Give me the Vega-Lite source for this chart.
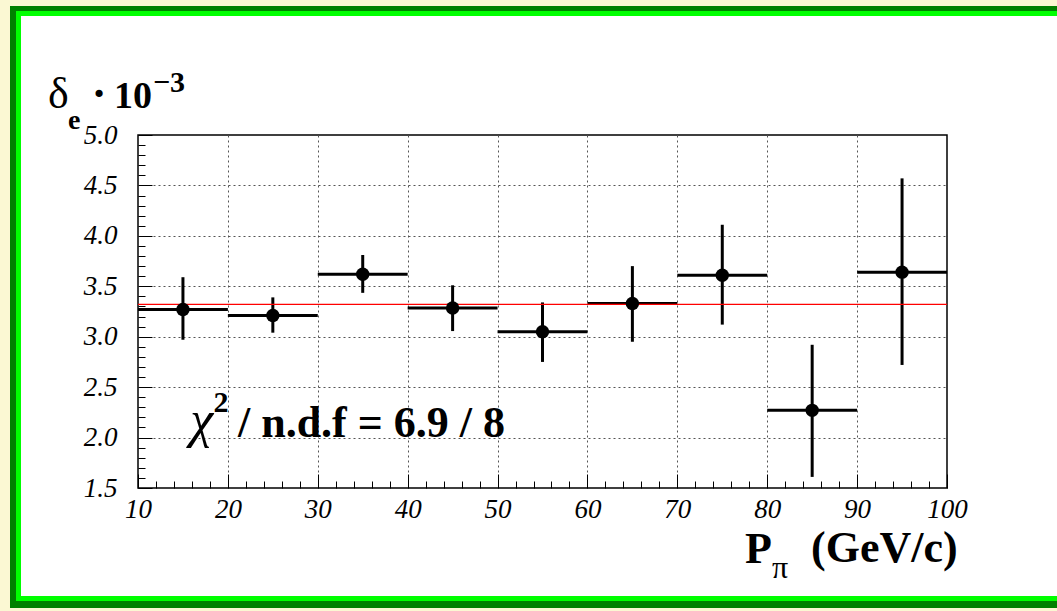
{
  "$schema": "https://vega.github.io/schema/vega-lite/v6.json",
  "width": 809,
  "height": 353,
  "autosize": {"type": "none"},
  "padding": {"left": 138, "top": 135, "right": 110, "bottom": 123},
  "background": "#ffffff",
  "config": {"view": {"stroke": "#000000", "strokeWidth": 1.5}, "font": "Liberation Serif"},
  "datasets": {
    "pts": [
      {"p": 15, "plo": 10, "phi": 20, "d": 3.27, "dlo": 2.97, "dhi": 3.59},
      {"p": 25, "plo": 20, "phi": 30, "d": 3.21, "dlo": 3.04, "dhi": 3.39},
      {"p": 35, "plo": 30, "phi": 40, "d": 3.62, "dlo": 3.435, "dhi": 3.81},
      {"p": 45, "plo": 40, "phi": 50, "d": 3.285, "dlo": 3.056, "dhi": 3.51},
      {"p": 55, "plo": 50, "phi": 60, "d": 3.05, "dlo": 2.75, "dhi": 3.34},
      {"p": 65, "plo": 60, "phi": 70, "d": 3.33, "dlo": 2.95, "dhi": 3.70},
      {"p": 75, "plo": 70, "phi": 80, "d": 3.61, "dlo": 3.12, "dhi": 4.11},
      {"p": 85, "plo": 80, "phi": 90, "d": 2.27, "dlo": 1.61, "dhi": 2.92},
      {"p": 95, "plo": 90, "phi": 100, "d": 3.64, "dlo": 2.72, "dhi": 4.57}
    ]
  },
  "layer": [
    {
      "data": {"name": "pts"},
      "mark": {"type": "rule", "color": "#000000", "strokeWidth": 3},
      "encoding": {
        "x": {
          "field": "plo", "type": "quantitative", "title": null,
          "scale": {"domain": [10, 100], "nice": false, "zero": false},
          "axis": {
            "values": [10,12,14,16,18,20,22,24,26,28,30,32,34,36,38,40,42,44,46,48,50,52,54,56,58,60,62,64,66,68,70,72,74,76,78,80,82,84,86,88,90,92,94,96,98,100],
            "tickCount": 200,
            "title": null,
            "domain": false,
            "ticks": true,
            "tickSize": {"condition": {"test": "datum.value % 10 == 0", "value": -14}, "value": -7},
            "tickColor": "#000000",
            "tickWidth": 1,
            "labelExpr": "datum.value % 10 == 0 ? format(datum.value, 'd') : ''",
            "labelFont": "Liberation Serif",
            "labelFontStyle": "italic",
            "labelFontSize": 27,
            "labelColor": "#000000",
            "labelPadding": 22,
            "labelOverlap": false,
            "labelFlush": false,
            "labelBound": false,
            "grid": true,
            "gridOpacity": {"condition": {"test": "datum.value % 10 == 0 && datum.value > 10 && datum.value < 100", "value": 1}, "value": 0},
            "gridColor": "#555555",
            "gridDash": [2, 3],
            "gridWidth": 1
          }
        },
        "x2": {"field": "phi"},
        "y": {
          "field": "d", "type": "quantitative", "title": null,
          "scale": {"domain": [1.5, 5.0], "nice": false, "zero": false},
          "axis": {
            "values": [1.5,1.6,1.7,1.8,1.9,2.0,2.1,2.2,2.3,2.4,2.5,2.6,2.7,2.8,2.9,3.0,3.1,3.2,3.3,3.4,3.5,3.6,3.7,3.8,3.9,4.0,4.1,4.2,4.3,4.4,4.5,4.6,4.7,4.8,4.9,5.0],
            "tickCount": 200,
            "title": null,
            "domain": false,
            "ticks": true,
            "tickSize": {"condition": {"test": "round(datum.value * 10) % 5 == 0", "value": -14}, "value": -7},
            "tickColor": "#000000",
            "tickWidth": 1,
            "labelExpr": "round(datum.value * 10) % 5 == 0 ? format(datum.value, '.1f') : ''",
            "labelFont": "Liberation Serif",
            "labelFontStyle": "italic",
            "labelFontSize": 27,
            "labelColor": "#000000",
            "labelPadding": 35,
            "labelOverlap": false,
            "labelFlush": false,
            "labelBound": false,
            "grid": true,
            "gridOpacity": {"condition": {"test": "round(datum.value * 10) % 5 == 0 && datum.value > 1.55 && datum.value < 4.95", "value": 1}, "value": 0},
            "gridColor": "#555555",
            "gridDash": [2, 3],
            "gridWidth": 1
          }
        }
      }
    },
    {
      "data": {"name": "pts"},
      "mark": {"type": "rule", "color": "#000000", "strokeWidth": 3},
      "encoding": {
        "x": {"field": "p", "type": "quantitative", "title": null},
        "y": {"field": "dlo", "type": "quantitative", "title": null},
        "y2": {"field": "dhi"}
      }
    },
    {
      "data": {"values": [{}]},
      "mark": {"type": "rule", "color": "#FF0000", "strokeWidth": 1.2},
      "encoding": {
        "x": {"datum": 10, "type": "quantitative"},
        "x2": {"datum": 100},
        "y": {"datum": 3.32, "type": "quantitative"}
      }
    },
    {
      "data": {"name": "pts"},
      "mark": {"type": "point", "shape": "circle", "filled": true, "color": "#000000", "opacity": 1, "size": 180},
      "encoding": {
        "x": {"field": "p", "type": "quantitative", "title": null},
        "y": {"field": "d", "type": "quantitative", "title": null}
      }
    },
    {
      "data": {"values": [{}]},
      "mark": {"type": "rule", "color": "#FBF8D3", "strokeWidth": 10, "strokeCap": "butt"},
      "encoding": {"x": {"datum": -4.796, "type": "quantitative"}, "y": {"datum": 6.3385, "type": "quantitative"}, "y2": {"datum": 0.2804}}
    },
    {
      "data": {"values": [{}]},
      "mark": {"type": "rule", "color": "#FBF8D3", "strokeWidth": 6, "strokeCap": "butt"},
      "encoding": {"x": {"datum": -5.352, "type": "quantitative"}, "x2": {"datum": 112.3}, "y": {"datum": 6.309, "type": "quantitative"}}
    },
    {
      "data": {"values": [{}]},
      "mark": {"type": "rule", "color": "#FBF8D3", "strokeWidth": 3, "strokeCap": "butt"},
      "encoding": {"x": {"datum": -5.352, "type": "quantitative"}, "x2": {"datum": 112.3}, "y": {"datum": 0.2953, "type": "quantitative"}}
    },
    {
      "data": {"values": [{}]},
      "mark": {"type": "rule", "color": "#008000", "strokeWidth": 6, "strokeCap": "butt"},
      "encoding": {"x": {"datum": -3.906, "type": "quantitative"}, "y": {"datum": 6.279, "type": "quantitative"}, "y2": {"datum": 0.310}}
    },
    {
      "data": {"values": [{}]},
      "mark": {"type": "rule", "color": "#008000", "strokeWidth": 5, "strokeCap": "butt"},
      "encoding": {"x": {"datum": -4.24, "type": "quantitative"}, "x2": {"datum": 112.3}, "y": {"datum": 6.2542, "type": "quantitative"}}
    },
    {
      "data": {"values": [{}]},
      "mark": {"type": "rule", "color": "#008000", "strokeWidth": 7, "strokeCap": "butt"},
      "encoding": {"x": {"datum": -4.24, "type": "quantitative"}, "x2": {"datum": 112.3}, "y": {"datum": 0.3449, "type": "quantitative"}}
    },
    {
      "data": {"values": [{}]},
      "mark": {"type": "rule", "color": "#00FF00", "strokeWidth": 5, "strokeCap": "butt"},
      "encoding": {"x": {"datum": -3.294, "type": "quantitative"}, "y": {"datum": 6.2295, "type": "quantitative"}, "y2": {"datum": 0.3796}}
    },
    {
      "data": {"values": [{}]},
      "mark": {"type": "rule", "color": "#00FF00", "strokeWidth": 5, "strokeCap": "butt"},
      "encoding": {"x": {"datum": -3.572, "type": "quantitative"}, "x2": {"datum": 112.3}, "y": {"datum": 6.2047, "type": "quantitative"}}
    },
    {
      "data": {"values": [{}]},
      "mark": {"type": "rule", "color": "#00FF00", "strokeWidth": 5, "strokeCap": "butt"},
      "encoding": {"x": {"datum": -3.572, "type": "quantitative"}, "x2": {"datum": 112.3}, "y": {"datum": 0.4044, "type": "quantitative"}}
    },
    {
      "data": {"values": [{}]},
      "mark": {"type": "text", "text": "δ", "font": "Liberation Serif", "fontSize": 44, "align": "left", "baseline": "alphabetic", "color": "#000000"},
      "encoding": {"x": {"datum": 0.0, "type": "quantitative"}, "y": {"datum": 5.268, "type": "quantitative"}}
    },
    {
      "data": {"values": [{}]},
      "mark": {"type": "text", "text": "e", "font": "Liberation Serif", "fontWeight": "bold", "fontSize": 28, "align": "left", "baseline": "alphabetic", "color": "#000000"},
      "encoding": {"x": {"datum": 2.21, "type": "quantitative"}, "y": {"datum": 5.06, "type": "quantitative"}}
    },
    {
      "data": {"values": [{}]},
      "mark": {"type": "text", "text": "·", "font": "Liberation Serif", "fontWeight": "bold", "fontSize": 44, "align": "center", "baseline": "alphabetic", "color": "#000000"},
      "encoding": {"x": {"datum": 5.66, "type": "quantitative"}, "y": {"datum": 5.268, "type": "quantitative"}}
    },
    {
      "data": {"values": [{}]},
      "mark": {"type": "text", "text": "10", "font": "Liberation Serif", "fontWeight": "bold", "fontSize": 38, "align": "left", "baseline": "alphabetic", "color": "#000000"},
      "encoding": {"x": {"datum": 7.33, "type": "quantitative"}, "y": {"datum": 5.268, "type": "quantitative"}}
    },
    {
      "data": {"values": [{}]},
      "mark": {"type": "text", "text": "−3", "font": "Liberation Serif", "fontWeight": "bold", "fontSize": 30, "align": "left", "baseline": "alphabetic", "color": "#000000"},
      "encoding": {"x": {"datum": 11.67, "type": "quantitative"}, "y": {"datum": 5.426, "type": "quantitative"}}
    },
    {
      "data": {"values": [{}]},
      "mark": {"type": "text", "text": "P", "font": "Liberation Serif", "fontWeight": "bold", "fontSize": 44, "align": "left", "baseline": "alphabetic", "color": "#000000"},
      "encoding": {"x": {"datum": 77.53, "type": "quantitative"}, "y": {"datum": 0.756, "type": "quantitative"}}
    },
    {
      "data": {"values": [{}]},
      "mark": {"type": "text", "text": "π", "font": "Liberation Serif", "fontSize": 32, "align": "left", "baseline": "alphabetic", "color": "#000000"},
      "encoding": {"x": {"datum": 80.53, "type": "quantitative"}, "y": {"datum": 0.608, "type": "quantitative"}}
    },
    {
      "data": {"values": [{}]},
      "mark": {"type": "text", "text": "(GeV/c)", "font": "Liberation Serif", "fontWeight": "bold", "fontSize": 44, "align": "left", "baseline": "alphabetic", "color": "#000000"},
      "encoding": {"x": {"datum": 84.87, "type": "quantitative"}, "y": {"datum": 0.766, "type": "quantitative"}}
    },
    {
      "data": {"values": [{}]},
      "mark": {"type": "text", "text": "χ", "font": "Liberation Serif", "fontStyle": "italic", "fontSize": 52, "align": "left", "baseline": "alphabetic", "color": "#000000"},
      "encoding": {"x": {"datum": 15.8, "type": "quantitative"}, "y": {"datum": 2.006, "type": "quantitative"}}
    },
    {
      "data": {"values": [{}]},
      "mark": {"type": "text", "text": "2", "font": "Liberation Serif", "fontWeight": "bold", "fontSize": 30, "align": "left", "baseline": "alphabetic", "color": "#000000"},
      "encoding": {"x": {"datum": 18.4, "type": "quantitative"}, "y": {"datum": 2.254, "type": "quantitative"}}
    },
    {
      "data": {"values": [{}]},
      "mark": {"type": "text", "text": "/ n.d.f = 6.9 / 8", "font": "Liberation Serif", "fontWeight": "bold", "fontSize": 44, "align": "left", "baseline": "alphabetic", "color": "#000000"},
      "encoding": {"x": {"datum": 21.12, "type": "quantitative"}, "y": {"datum": 2.006, "type": "quantitative"}}
    }
  ]
}
